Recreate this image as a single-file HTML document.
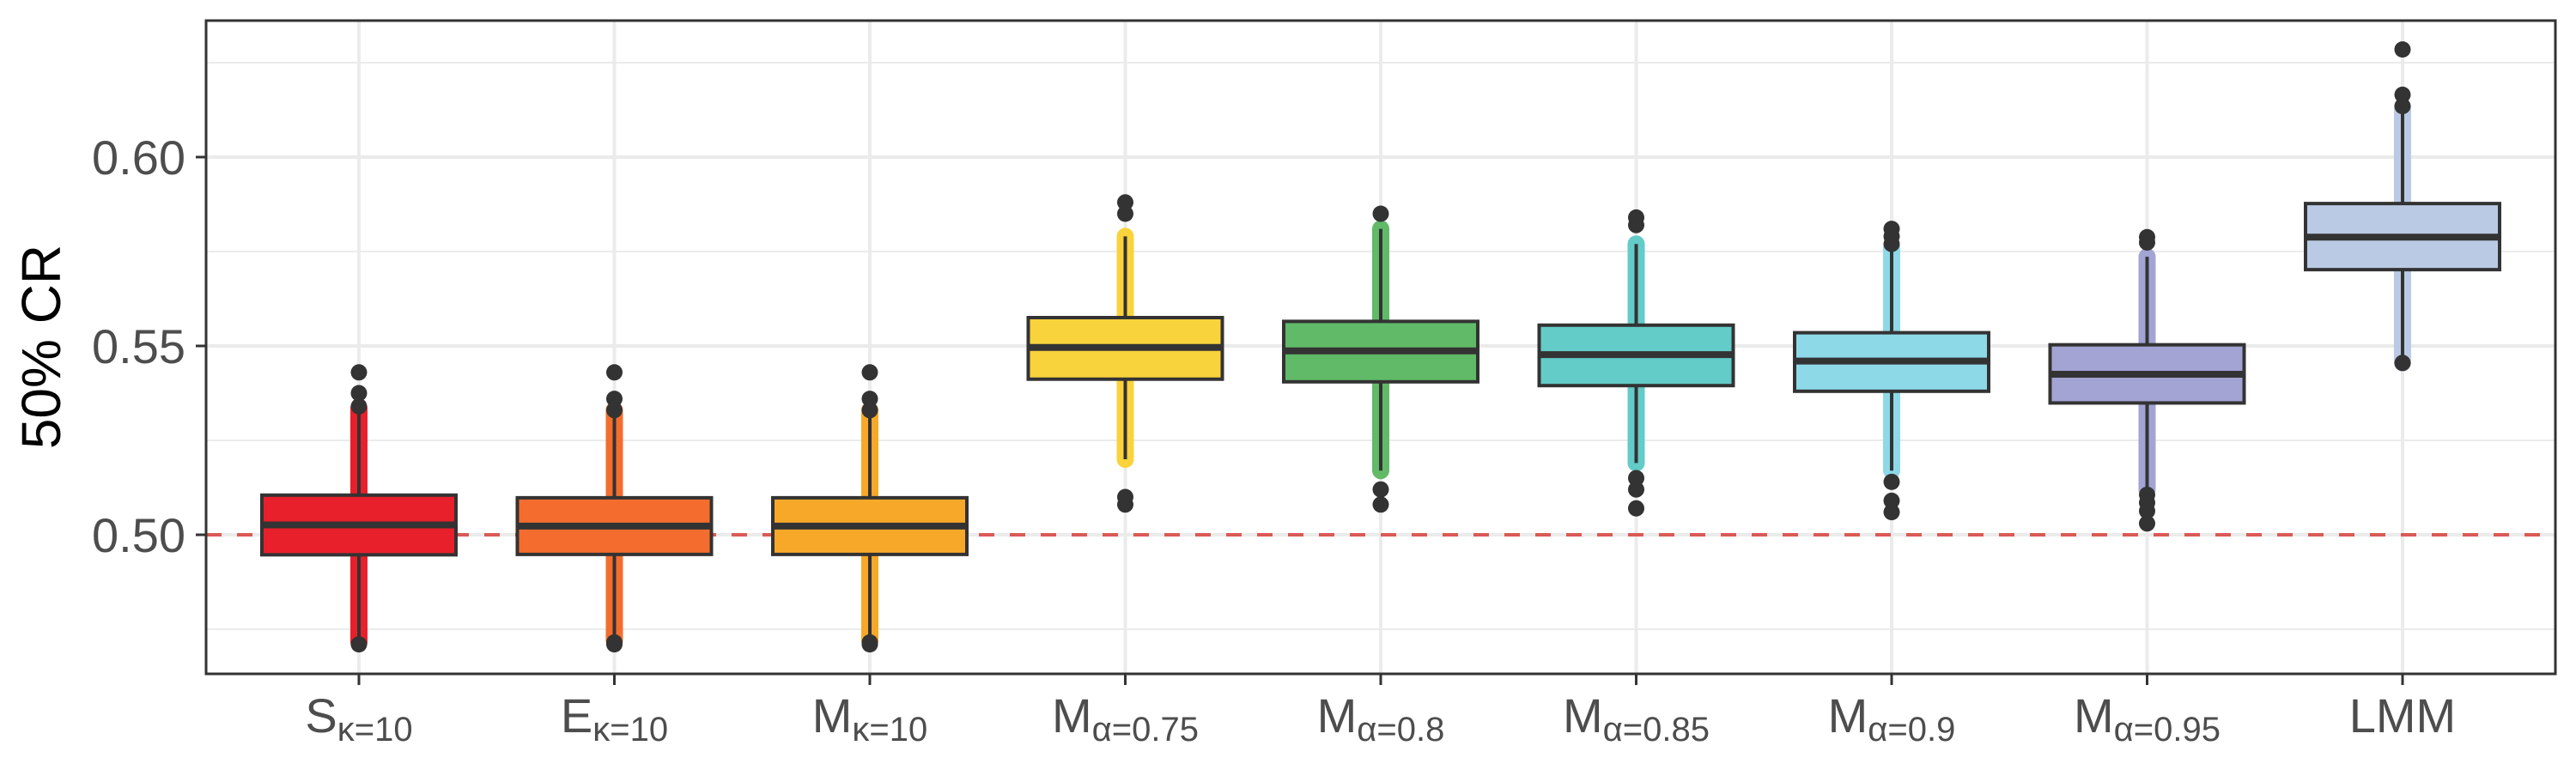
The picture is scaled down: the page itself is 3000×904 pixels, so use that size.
<!DOCTYPE html>
<html><head><meta charset="utf-8"><style>
html,body{margin:0;padding:0;background:#fff;}
svg text{font-family:"Liberation Sans",sans-serif;}
</style></head><body>
<svg id="chart" width="3000" height="899" xmlns="http://www.w3.org/2000/svg">
<g id="grid"></g>
<g id="marks"></g>
<rect x="240" y="24" width="2736" height="761" fill="none" stroke="#333" stroke-width="3"/>
<g id="axes"></g>
<text x="0" y="0" transform="translate(70,404) rotate(-90)" text-anchor="middle" font-size="64" fill="#000">50% CR</text>
</svg>
<script>
const categories = ["S|κ=10","E|κ=10","M|κ=10","M|α=0.75","M|α=0.8","M|α=0.85","M|α=0.9","M|α=0.95","LMM|"];
const colors = ["#E8202B","#F46D2F","#F7A829","#F9D33B","#60BA67","#63CBC8","#8ED9E8","#A3A4D4","#BBCAE4"];
const q1 = [0.4947,0.4948,0.4948,0.5412,0.5405,0.5395,0.5380,0.5349,0.5702];
const med = [0.5026,0.5023,0.5023,0.5496,0.5487,0.5477,0.5460,0.5425,0.5788];
const q3 = [0.5105,0.5098,0.5098,0.5575,0.5565,0.5555,0.5535,0.5503,0.5877];
const whiskLo = [0.4716,0.4720,0.4720,0.5200,0.5170,0.5190,0.5170,0.5120,0.5455];
const whiskHi = [0.5335,0.5330,0.5330,0.5790,0.5810,0.5770,0.5760,0.5736,0.6130];
const outliers = [[0.543,0.5375,0.534,0.471],[0.543,0.536,0.533,0.471,0.4715],[0.543,0.536,0.533,0.471,0.4715],
 [0.588,0.585,0.510,0.508],[0.585,0.512,0.508],[0.584,0.582,0.515,0.512,0.507],[0.581,0.579,0.577,0.514,0.509,0.506],
 [0.5788,0.5774,0.5106,0.5085,0.5063,0.503],[0.6285,0.6165,0.6135,0.5455]];
const yTicks = [0.50,0.55,0.60];
const yMinor = [0.475,0.525,0.575,0.625];
const refLine = 0.5;

const NS="http://www.w3.org/2000/svg";
const y = v => 623 - (v-0.5)*4400;
const x = i => 418 + i*297.5;
function mk(tag, attrs, parent){const e=document.createElementNS(NS,tag);for(const k in attrs)e.setAttribute(k,attrs[k]);parent.appendChild(e);return e;}
const grid=document.getElementById('grid'), marks=document.getElementById('marks'), axes=document.getElementById('axes');
yMinor.forEach(v=>{const l=mk('line',{x1:240,x2:2976,y1:y(v),y2:y(v),stroke:'#ebebeb','stroke-width':2},grid);

});
yTicks.forEach(v=>{const l=mk('line',{x1:240,x2:2976,y1:y(v),y2:y(v),stroke:'#ebebeb','stroke-width':4},grid);


const t=mk('line',{x1:228,x2:240,y1:y(v),y2:y(v),stroke:'#333','stroke-width':3},axes);


const tx=mk('text',{x:216,y:y(v)+20,'text-anchor':'end','font-size':56,fill:'#4d4d4d'},axes);tx.textContent=v.toFixed(2);

});
categories.forEach((c,i)=>{const l=mk('line',{x1:x(i),x2:x(i),y1:24,y2:785,stroke:'#ebebeb','stroke-width':4},grid);

});
const rl=mk('line',{x1:240,x2:2976,y1:y(refLine),y2:y(refLine),stroke:'#DA5A55','stroke-width':4,'stroke-dasharray':'18,18'},grid);


categories.forEach((c,i)=>{
 const g=mk('g',{},marks);
 
 
 const cx=x(i);
 mk('line',{x1:cx,x2:cx,y1:y(whiskHi[i]),y2:y(whiskLo[i]),stroke:colors[i],'stroke-width':20,'stroke-linecap':'round'},g);
 mk('line',{x1:cx,x2:cx,y1:y(whiskHi[i]),y2:y(whiskLo[i]),stroke:'#333','stroke-width':4},g);
 mk('rect',{x:cx-113,y:y(q3[i]),width:226,height:y(q1[i])-y(q3[i]),fill:colors[i],stroke:'#333','stroke-width':4},g);
 mk('line',{x1:cx-113,x2:cx+113,y1:y(med[i]),y2:y(med[i]),stroke:'#333','stroke-width':8},g);
 outliers[i].forEach(v=>{const p=mk('circle',{cx:cx,cy:y(v),r:9.5,fill:'#333'},g);
 
 });
 const t=mk('line',{x1:cx,x2:cx,y1:785,y2:798,stroke:'#333','stroke-width':3},axes);
 
 
 const [main,sub]=c.split('|');
 const tx=mk('text',{x:cx,y:853,'text-anchor':'middle','font-size':56,fill:'#4d4d4d'},axes);
 
 
 const s1=mk('tspan',{},tx);s1.textContent=main;
 if(sub){const s2=mk('tspan',{'font-size':40,dy:10},tx);s2.textContent=sub;}
});
</script>
</body></html>
